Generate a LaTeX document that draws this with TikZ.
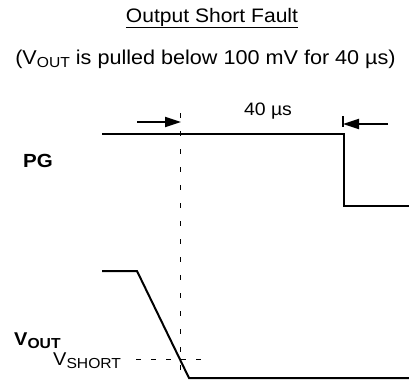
\documentclass[tikz,border=0pt]{standalone}
\usepackage{fontspec}
\setmainfont{Liberation Sans}[FakeStretch=1.08]
\usetikzlibrary{arrows.meta}
\newcommand{\sbs}[1]{\raisebox{-3.5pt}{\fontsize{14.5}{15}\selectfont #1}}
\newcommand{\sbsb}[1]{\raisebox{-3pt}{\fontsize{14.5}{15}\selectfont\bfseries #1}}
\tikzset{
  wave/.style={line width=2pt, line join=miter},
  guide/.style={line width=0.7pt, dash pattern=on 5pt off 13pt},
  guideh/.style={line width=0.7pt, dash pattern=on 5pt off 10pt},
  marker/.style={line width=2pt, -{Triangle[length=16pt,width=10pt]}},
  txt/.style={inner sep=0pt, font=\fontsize{19.5}{22}\selectfont},
}
\begin{document}
\begin{tikzpicture}[x=1pt,y=-1pt]
\useasboundingbox (0,0) rectangle (409,381);
% texts
\node[txt, anchor=base] (title) at (212,22) {\underline{Output Short Fault}};
\node[txt, anchor=base, font=\fontsize{20}{22}\selectfont] (sub) at (205.5,64) {(V\sbs{OUT} is pulled below 100 mV for 40 µs)};
\node[txt, anchor=base, font=\fontsize{18}{22}\selectfont] (t40) at (268,115) {40 µs};
\node[txt, anchor=base west, font=\fontsize{19}{22}\selectfont\bfseries] (pg) at (23,167) {PG};
\node[txt, anchor=base west, font=\fontsize{18.5}{22}\selectfont\bfseries] (vout) at (14,345) {V\sbsb{OUT}};
\node[txt, anchor=base west, font=\fontsize{18.5}{22}\selectfont] (vshort) at (53,365) {V\sbs{SHORT}};
% coordinates
\coordinate (pg0) at (102,134);
\coordinate (pg1) at (344,134);
\coordinate (pg2) at (344,206);
\coordinate (pg3) at (409,206);
\coordinate (v0) at (102,271);
\coordinate (v1) at (137,271);
\coordinate (v2) at (189,378);
\coordinate (v3) at (409,378);
\coordinate (dv0) at (180,113);
\coordinate (dv1) at (180,381);
\coordinate (dh0) at (136,359);
\coordinate (dh1) at (208,359);
\coordinate (la0) at (137,122);
\coordinate (la1) at (181,122);
\coordinate (ra0) at (388,124);
\coordinate (ra1) at (343,124);
\coordinate (tk0) at (343,116);
\coordinate (tk1) at (343,127);
% waveforms
\draw[wave] (pg0) -- (pg1) -- (pg2) -- (pg3);
\draw[wave] (v0) -- (v1) -- (v2) -- (v3);
% guides
\draw[guide] (dv0) -- (dv1);
\draw[guideh] (dh0) -- (dh1);
% timing arrows
\draw[marker] (la0) -- (la1);
\draw[marker] (ra0) -- (ra1);
\draw[line width=1.3pt] (tk0) -- (tk1);
\end{tikzpicture}
\end{document}
